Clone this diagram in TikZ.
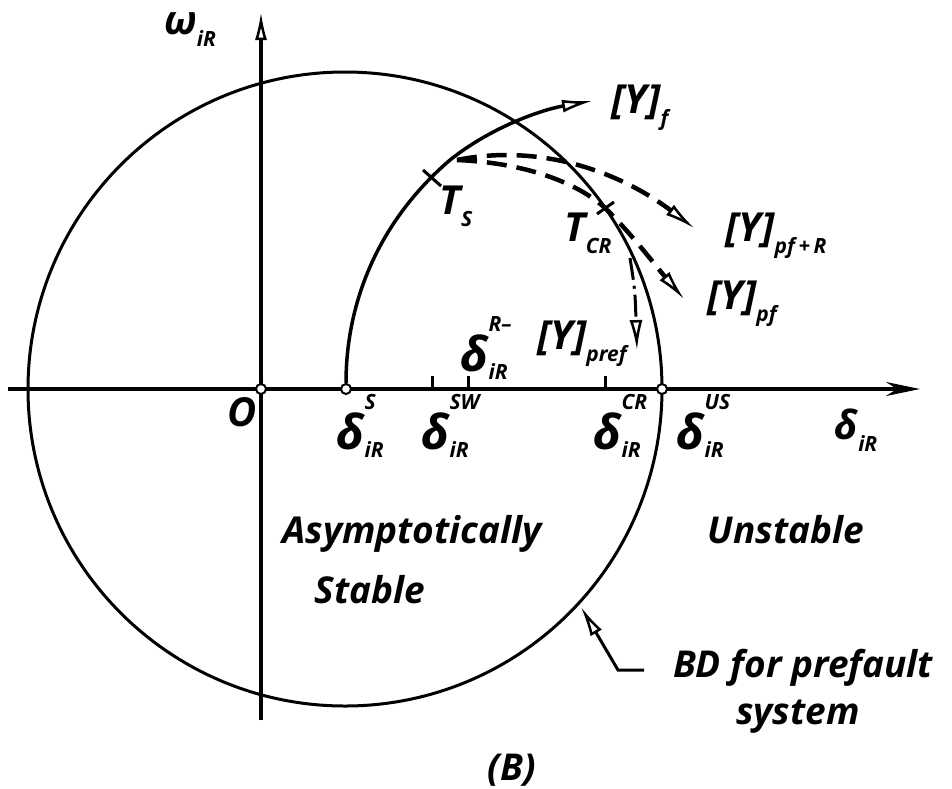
\documentclass[tikz,border=0pt]{standalone}
\usepackage{fontspec}
\setmainfont{Open Sans}
\usetikzlibrary{arrows.meta,calc}
\newcommand\scr[1]{{\fontsize{21}{21}\selectfont #1}}
\newcommand\sbx[1]{\raisebox{-0.3em}{\scr{#1}}}
\newcommand\dlt[2]{{\fontsize{48}{48}\selectfont δ}\rlap{\raisebox{1.0em}{\scr{#1}}}\raisebox{-0.2em}{\scr{#2}}}
\tikzset{
  axis/.style={line width=3.5pt},
  bd/.style={line width=3pt},
  traj/.style={line width=3.5pt},
  lbl/.style={font=\fontsize{40}{40}\selectfont\bfseries\itshape, inner sep=0pt},
  slbl/.style={font=\fontsize{37}{37}\selectfont\bfseries\itshape, inner sep=0pt},
  dotc/.style={circle, draw, fill=white, line width=2pt, minimum size=10pt, inner sep=0pt},
  tick/.style={line width=3pt},
  oarrow/.style={-{Latex[length=30pt,width=13pt,open,line width=2.5pt]}},
  dsh/.style={line width=4.5pt, dash pattern=on 20pt off 10pt},
  dshdot/.style={line width=3pt, dash pattern=on 22pt off 6pt on 3pt off 6pt},
}
\begin{document}
\begin{tikzpicture}[x=1pt,y=-1pt]
\useasboundingbox (0,0) rectangle (952,788);
% coordinates
\coordinate (xl) at (8,389);
\coordinate (xr) at (920,389);
\coordinate (yt) at (261,12);
\coordinate (yb) at (261,720);
\coordinate (c) at (345,389);
% axes
\draw[axis,-{Stealth[length=34pt,width=14pt]}] (xl) -- (xr);
\draw[axis,-{Latex[length=28pt,width=12pt,open,line width=2.5pt]}] (yb) -- (yt);
% boundary circle
\draw[bd] (c) circle[radius=317];
% dots
\node[dotc] (o) at (261,389) {};
\node[dotc] (ds) at (346,389) {};
\node[dotc] (dus) at (662,389) {};
% ticks
\coordinate (tsw) at (432,389);
\coordinate (trm) at (468,389);
\coordinate (tcr) at (605,389);
\foreach \t in {tsw,trm,tcr} \draw[tick] (\t) -- ++(0,-13);
% trajectory Y_f
\coordinate (yf) at (592,101);
\draw[traj,oarrow] (ds) .. controls (346,300) and (380,220) .. (450,160) .. controls (490,128) and (540,110) .. (yf);
% T_s and T_CR marks
\coordinate (Ts) at (432,178);
\coordinate (Tcr) at (605,208);
\draw[tick] ($(Ts)+(-9,-8)$) -- ($(Ts)+(9,8)$);
\draw[tick] ($(Tcr)+(-8,6)$) -- ($(Tcr)+(9,-6)$);
% dashed trajectories
\coordinate (st) at (457,160);
\coordinate (ypfr) at (694,228);
\coordinate (ypf) at (684,299);
\draw[dsh,oarrow] (st) .. controls (540,143) and (620,172) .. (ypfr);
\draw[dsh,oarrow] (st) .. controls (530,163) and (580,185) .. (Tcr) .. controls (630,232) and (655,265) .. (ypf);
\coordinate (pr0) at (630,258);
\coordinate (pr1) at (637,350);
\draw[dshdot,oarrow] (pr0) .. controls (635,290) .. (pr1);
% BD leader
\coordinate (bd0) at (644,670);
\coordinate (bd1) at (618,670);
\coordinate (bd2) at (581,607);
\draw[line width=3pt,oarrow] (bd0) -- (bd1) -- (bd2);
% labels
\node[lbl] (lw) at (190,30) {ω\sbx{iR}};
\node[lbl] (lo) at (242,412) {O};
\node[lbl] (lds) at (360,426) {\dlt{S}{iR}};
\node[lbl] (ldsw) at (445,426) {\dlt{SW}{iR}};
\node[lbl] (ldr) at (484,348) {\dlt{R--}{iR}};
\node[lbl] (ldcr) at (617,426) {\dlt{CR}{iR}};
\node[lbl] (ldus) at (700,426) {\dlt{US}{iR}};
\node[lbl] (ld) at (856,430) {δ\sbx{iR}};
\node[lbl] (lts) at (456,206) {T\sbx{S}};
\node[lbl] (ltcr) at (588,233) {T\sbx{CR}};
\node[lbl] (lyf) at (640,108) {[Y]\sbx{f}};
\node[lbl] (lypfr) at (776,236) {[Y]\sbx{pf\,+\,R}};
\node[lbl] (lypf) at (742,304) {[Y]\sbx{pf}};
\node[lbl] (lypref) at (582,344) {[Y]\sbx{pref}};
\node[slbl] (las) at (412,534) {Asymptotically};
\node[slbl] (lst) at (370,590) {Stable};
\node[slbl] (lun) at (786,530) {Unstable};
\node[slbl] (lbd) at (803,668) {BD for prefault};
\node[slbl] (lsy) at (798,717) {system};
\node[slbl] (lb) at (512,770) {(B)};
\end{tikzpicture}
\end{document}
